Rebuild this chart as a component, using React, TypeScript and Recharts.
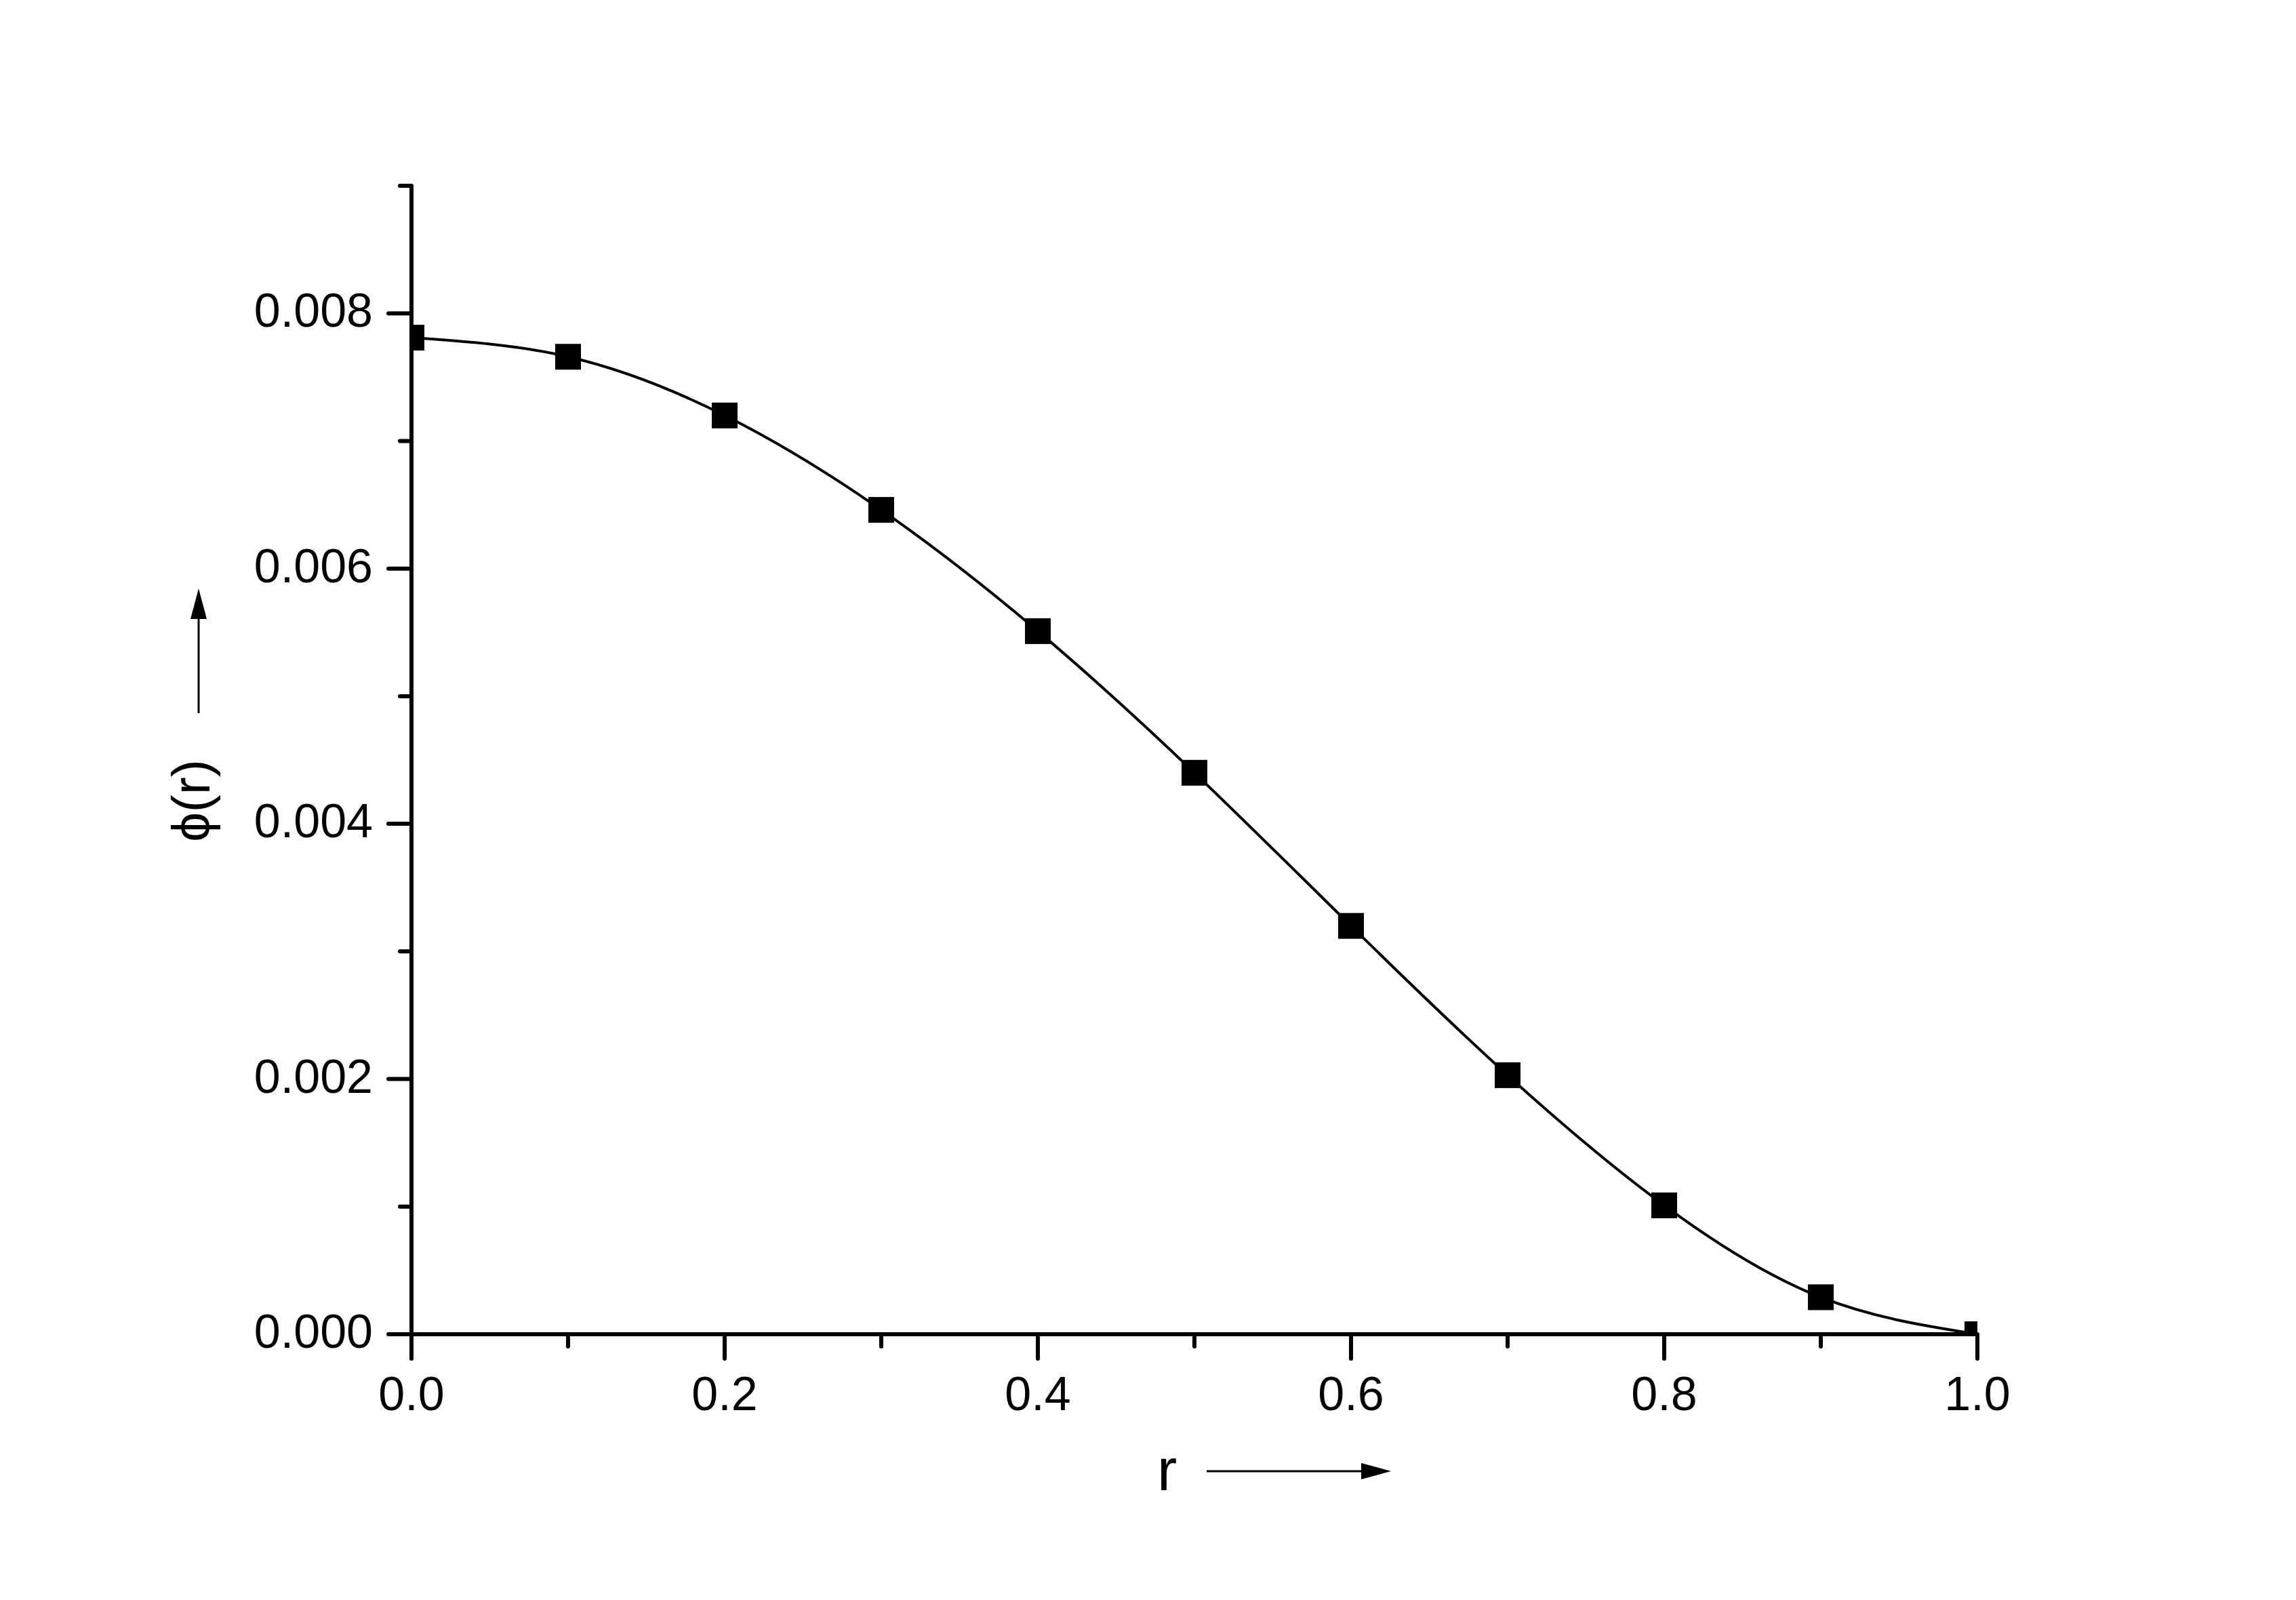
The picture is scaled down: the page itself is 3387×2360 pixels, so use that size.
import { Line, LineChart, XAxis, YAxis } from "recharts";

const R_VALUES = [0, 0.1, 0.2, 0.3, 0.4, 0.5, 0.6, 0.7, 0.8, 0.9, 1.0];
const PHI_VALUES = [
  0.00781, 0.00766, 0.0072, 0.00646, 0.00551, 0.0044, 0.0032, 0.00203,
  0.00101, 0.00029, 0.0,
];
const X_TICKS = [0, 0.1, 0.2, 0.3, 0.4, 0.5, 0.6, 0.7, 0.8, 0.9, 1.0];
const Y_TICKS = [
  0, 0.001, 0.002, 0.003, 0.004, 0.005, 0.006, 0.007, 0.008, 0.009,
];

const data = R_VALUES.map((r, i) => ({ r, phi: PHI_VALUES[i] }));

const FONT = "'Liberation Sans', Arial, sans-serif";

function XTick(props: any) {
  const { x, y, payload } = props;
  const v = payload.value as number;
  const major = Math.round(v * 10) % 2 === 0;
  return (
    <g>
      <line
        x1={x}
        y1={y}
        x2={x}
        y2={y + (major ? 36 : 18)}
        stroke="#000"
        strokeWidth={6}
        strokeLinecap="round"
      />
      {major && (
        <text
          x={x}
          y={y + 112}
          textAnchor="middle"
          fontSize={70}
          fontFamily={FONT}
          fill="#000"
        >
          {v.toFixed(1)}
        </text>
      )}
    </g>
  );
}

function YTick(props: any) {
  const { x, y, payload } = props;
  const v = payload.value as number;
  const major = Math.round(v * 1000) % 2 === 0;
  return (
    <g>
      <line
        x1={x}
        y1={y}
        x2={x - (major ? 34 : 17)}
        y2={y}
        stroke="#000"
        strokeWidth={6}
        strokeLinecap="round"
      />
      {major && (
        <text
          x={x - 57}
          y={y + 20}
          textAnchor="end"
          fontSize={70}
          fontFamily={FONT}
          fill="#000"
        >
          {v.toFixed(3)}
        </text>
      )}
    </g>
  );
}

function SquareDot(props: any) {
  const { cx, cy } = props;
  if (cx == null || cy == null) return null;
  return <rect x={cx - 19} y={cy - 19} width={38} height={38} fill="#000" />;
}

export default function App() {
  return (
    <div
      style={{
        position: "absolute",
        left: 0,
        top: 0,
        width: 3387,
        height: 2360,
        background: "#fff",
      }}
    >
      <LineChart
        width={3387}
        height={2360}
        data={data}
        margin={{ top: 274, right: 470, bottom: 0, left: 0 }}
      >
        <XAxis
          dataKey="r"
          type="number"
          domain={[0, 1]}
          ticks={X_TICKS}
          interval={0}
          allowDataOverflow
          height={392}
          tickSize={0}
          tickMargin={0}
          tickLine={false}
          axisLine={{ stroke: "#000", strokeWidth: 6 }}
          tick={<XTick />}
        />
        <YAxis
          type="number"
          domain={[0, 0.009]}
          ticks={Y_TICKS}
          interval={0}
          allowDataOverflow
          width={607}
          tickSize={0}
          tickMargin={0}
          tickLine={false}
          axisLine={{ stroke: "#000", strokeWidth: 6 }}
          tick={<YTick />}
        />
        <Line
          dataKey="phi"
          type="natural"
          stroke="#000"
          strokeWidth={4}
          dot={<SquareDot />}
          activeDot={false}
          isAnimationActive={false}
        />
      </LineChart>

      {/* axis titles with Origin-style arrows */}
      <svg
        width={3387}
        height={2360}
        style={{ position: "absolute", left: 0, top: 0, pointerEvents: "none" }}
      >
        <text x={1707} y={2198} fontSize={88} fontFamily={FONT} fill="#000">
          r
        </text>
        <line x1={1780} y1={2170} x2={2012} y2={2170} stroke="#000" strokeWidth={3} />
        <polygon points="2008,2158 2052,2170 2008,2182" fill="#000" />

        <text
          x={309}
          y={1181}
          fontSize={78}
          fontFamily={FONT}
          fill="#000"
          textAnchor="middle"
          transform="rotate(-90 309 1181)"
        >
          ϕ(r)
        </text>
        <line x1={293} y1={1052} x2={293} y2={908} stroke="#000" strokeWidth={3} />
        <polygon points="281,913 293,868 305,913" fill="#000" />
      </svg>
    </div>
  );
}
